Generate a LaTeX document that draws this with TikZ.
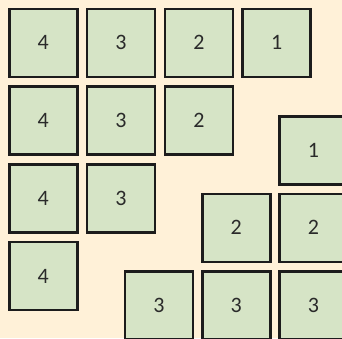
\documentclass[tikz,border=0pt]{standalone}
\usepackage{fontspec}
\setmainfont{Carlito}
\definecolor{bgcream}{HTML}{FFF1D8}
\definecolor{tilegreen}{HTML}{D6E4C6}
\definecolor{tileedge}{HTML}{1C1C1C}
\definecolor{digit}{HTML}{2A2A2A}
\tikzset{
  tile/.style={draw=tileedge, fill=tilegreen, line width=2.5pt, rectangle,
    minimum width=68pt, minimum height=68pt, inner sep=0pt,
    text=digit, font=\fontsize{22}{22}\selectfont},
}
\begin{document}
\begin{tikzpicture}[x=1pt,y=-1pt]
\useasboundingbox (0,0) rectangle (342,338);
\fill[bgcream] (0,0) rectangle (342,338);
\clip (0,0) rectangle (342,338);
% left staircase
\node[tile] (a1) at (43.25,42.75) {4};
\node[tile] (a2) at (121.05,42.75) {3};
\node[tile] (a3) at (198.85,42.75) {2};
\node[tile] (a4) at (276.65,42.75) {1};
\node[tile] (b1) at (43.25,120.55) {4};
\node[tile] (b2) at (121.05,120.55) {3};
\node[tile] (b3) at (198.85,120.55) {2};
\node[tile] (c1) at (43.25,198.35) {4};
\node[tile] (c2) at (121.05,198.35) {3};
\node[tile] (d1) at (43.25,276.15) {4};
% right staircase
\node[tile] (r1) at (313.55,150.55) {1};
\node[tile] (r2) at (236.25,227.75) {2};
\node[tile] (r3) at (313.55,227.75) {2};
\node[tile] (r4) at (158.95,305.25) {3};
\node[tile] (r5) at (236.25,305.25) {3};
\node[tile] (r6) at (313.55,305.25) {3};
\end{tikzpicture}
\end{document}
